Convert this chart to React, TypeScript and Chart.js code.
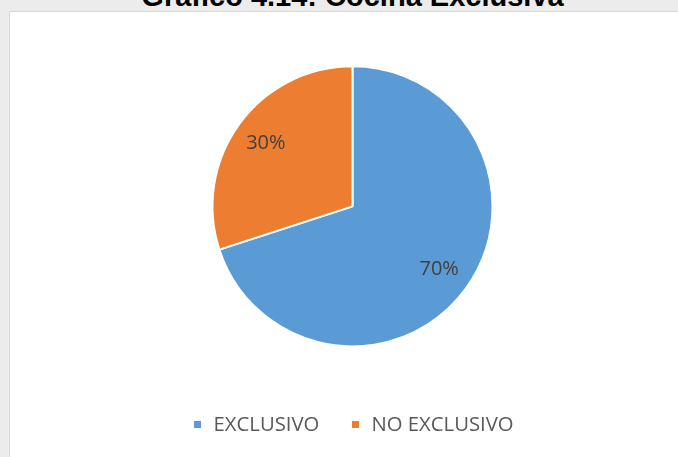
import React, { useEffect, useRef } from "react";
import { Chart, registerables } from "chart.js";

Chart.register(...registerables);

const TITLE = "Gráfico 4.14: Cocina Exclusiva";
const categories = ["EXCLUSIVO", "NO EXCLUSIVO"];
const values = [70, 30];
const colors = ["#5B9BD5", "#ED7D31"];

function makeSwatch(color: string): HTMLCanvasElement {
  const c = document.createElement("canvas");
  c.width = 7;
  c.height = 7;
  const g = c.getContext("2d")!;
  g.fillStyle = color;
  g.fillRect(0, 0, 7, 7);
  return c;
}

const sliceLabels = {
  id: "sliceLabels",
  afterDatasetsDraw(chart: any) {
    const ctx = chart.ctx;
    const meta = chart.getDatasetMeta(0);
    const data = chart.data.datasets[0].data as number[];
    const total = data.reduce((a, b) => a + b, 0);
    ctx.save();
    ctx.font = "20px 'Open Sans'";
    ctx.fillStyle = "#404040";
    ctx.textAlign = "center";
    ctx.textBaseline = "middle";
    meta.data.forEach((arc: any, i: number) => {
      const p = arc.getProps(["x", "y", "startAngle", "endAngle", "outerRadius"], true);
      const mid = (p.startAngle + p.endAngle) / 2;
      const d = p.outerRadius * 0.765;
      const x = p.x + Math.cos(mid) * d;
      const y = p.y + Math.sin(mid) * d;
      ctx.fillText(Math.round((data[i] / total) * 100) + "%", x, y);
    });
    ctx.restore();
  },
};

export default function App() {
  const ref = useRef<HTMLCanvasElement>(null);
  useEffect(() => {
    if (!ref.current) return;
    const chart = new Chart(ref.current, {
      type: "pie",
      data: {
        labels: categories,
        datasets: [
          {
            data: values,
            backgroundColor: colors,
            borderColor: "#ffffff",
            borderWidth: 2,
            radius: 140,
          } as any,
        ],
      },
      options: {
        responsive: false,
        animation: false,
        layout: { padding: { top: 28, left: 27, right: 0, bottom: 12 } },
        plugins: {
          tooltip: { enabled: false },
          title: { display: false },
          legend: {
            position: "bottom",
            labels: {
              usePointStyle: true,
              pointStyleWidth: 12,
              boxHeight: 7,
              padding: 30,
              color: "#595959",
              font: { family: "'Open Sans'", size: 20.3 },
              generateLabels: (c: any) =>
                c.data.labels.map((l: string, i: number) => ({
                  text: l,
                  fillStyle: colors[i],
                  strokeStyle: colors[i],
                  lineWidth: 0,
                  pointStyle: makeSwatch(colors[i]),
                  hidden: false,
                  index: i,
                  fontColor: "#595959",
                })),
            },
          },
        },
      },
      plugins: [sliceLabels],
    });
    return () => chart.destroy();
  }, []);

  return (
    <div
      style={{
        position: "fixed",
        left: 0,
        top: 0,
        width: 678,
        height: 457,
        overflow: "hidden",
        background: "#ececec",
      }}
    >
      <div
        style={{
          position: "absolute",
          left: 9,
          top: 11,
          width: 700,
          height: 470,
          background: "#ffffff",
          border: "1px solid #d9d9d9",
        }}
      />
      <div
        style={{
          position: "absolute",
          left: 0,
          top: -18.5,
          width: 705,
          textAlign: "center",
          font: "bold 29px 'Liberation Sans', Arial, sans-serif",
          lineHeight: "29px",
          color: "#000000",
          whiteSpace: "nowrap",
        }}
      >
        {TITLE}
      </div>
      <canvas
        ref={ref}
        width={678}
        height={457}
        style={{ position: "absolute", left: 0, top: 0, width: 678, height: 457 }}
      />
    </div>
  );
}
